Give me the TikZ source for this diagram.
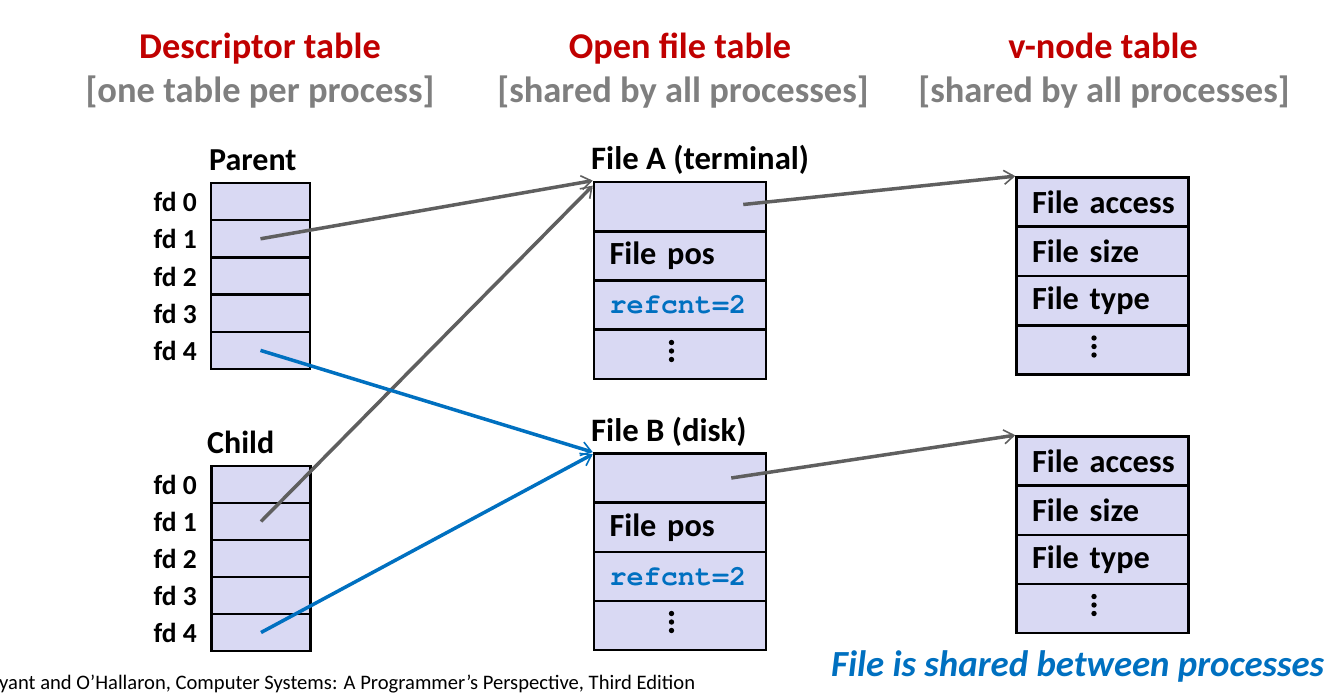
\documentclass[tikz,border=0pt]{standalone}
\usepackage{fontspec}
\setmainfont{Carlito}
\newfontfamily\codefont{texgyrecursor-bold.otf}
\usetikzlibrary{arrows.meta}
\definecolor{cellfill}{RGB}{217,217,243}
\definecolor{titlered}{RGB}{192,0,0}
\definecolor{subgray}{RGB}{127,127,127}
\definecolor{linkblue}{RGB}{0,112,192}
\definecolor{linkgray}{RGB}{95,95,95}
\tikzset{
  title/.style={font=\fontsize{36.3}{40}\selectfont\bfseries, text=titlered, inner sep=0pt, anchor=base},
  subtitle/.style={font=\fontsize{36.5}{40}\selectfont\bfseries, text=subgray, inner sep=0pt, anchor=base},
  hdr/.style={font=\fontsize{32}{36}\selectfont\bfseries, inner sep=0pt, anchor=base west},
  fdlab/.style={font=\fontsize{27.5}{30}\selectfont\bfseries, inner sep=0pt, anchor=base east},
  fdcell/.style={draw=black, line width=2.5pt, fill=cellfill, minimum width=99pt, minimum height=37.2pt, inner sep=0pt},
  filecell/.style={draw=black, line width=2.5pt, fill=cellfill, minimum width=172pt, minimum height=49.2pt, inner sep=0pt},
  textcell/.style={filecell, text width=141pt, inner xsep=15.5pt, align=left, font=\fontsize{32.3}{36}\selectfont\bfseries},
  refcell/.style={textcell, font=\fontsize{28.5}{32}\selectfont\codefont, text=linkblue},
  graylink/.style={draw=linkgray, line width=3.5pt, -{Straight Barb[length=10pt,width=14pt,line width=1.6pt]}},
  bluelink/.style={draw=linkblue, line width=3.5pt, -{Straight Barb[length=10pt,width=14pt,line width=1.6pt]}},
}
\newcommand{\celldots}[1]{\foreach \dy in {12,3.5,-5}{\fill ([xshift=-8.5pt,yshift=\dy pt]#1.center) circle (2.7pt);}}
\begin{document}
\begin{tikzpicture}[x=1pt,y=-1pt]
\useasboundingbox (0,0) rectangle (1341,695);

% titles
\node[title] (t1) at (260,59) {Descriptor table};
\node[subtitle] (s1) at (260,103) {[one table per process]};
\node[title] (t2) at (680,59) {Open file table};
\node[subtitle] (s2) at (683,103) {[shared by all processes]};
\node[title] (t3) at (1103,59) {v-node table};
\node[subtitle] (s3) at (1104,103) {[shared by all processes]};

% parent descriptor table
\node[hdr] (parent) at (209,171) {Parent};
\foreach \i/\y in {0/201.6,1/238.8,2/276.0,3/313.2,4/350.4}{
  \node[fdcell] (p\i) at (260.5,\y) {};
  \node[fdlab] (pl\i) at (197,\y+10) {fd \i};
}
% child descriptor table
\node[hdr] (child) at (207,453) {Child};
\foreach \i/\y in {0/484.5,1/521.5,2/558.5,3/595.5,4/632.5}{
  \node[fdcell] (c\i) at (261,\y) {};
  \node[fdlab] (cl\i) at (197,\y+10) {fd \i};
}

% open file table: File A
\node[hdr, font=\fontsize{32.7}{36}\selectfont\bfseries] (fal) at (591,170) {File A (terminal)};
\node[filecell] (fa0) at (680,206.5) {};
\node[textcell] (fa1) at (680,256) {\mbox{File pos}};
\node[refcell] (fa2) at (680,305) {\mbox{refcnt=2}};
\node[filecell] (fa3) at (680,354.5) {};
\celldots{fa3}

% open file table: File B
\node[hdr, font=\fontsize{32.7}{36}\selectfont\bfseries] (fbl) at (591,441) {File B (disk)};
\node[filecell] (fb0) at (680,478) {};
\node[textcell] (fb1) at (680,527.5) {\mbox{File pos}};
\node[refcell] (fb2) at (680,576.5) {\mbox{refcnt=2}};
\node[filecell] (fb3) at (680,625.5) {};
\celldots{fb3}

% v-node tables
\node[textcell] (va0) at (1102.5,202) {\mbox{File access}};
\node[textcell] (va1) at (1102.5,251.5) {\mbox{File size}};
\node[textcell] (va2) at (1102.5,300.5) {\mbox{File type}};
\node[filecell] (va3) at (1102.5,350) {};
\celldots{va3}

\node[textcell] (vb0) at (1102.5,461) {\mbox{File access}};
\node[textcell] (vb1) at (1102.5,510.5) {\mbox{File size}};
\node[textcell] (vb2) at (1102.5,559.5) {\mbox{File type}};
\node[filecell] (vb3) at (1102.5,608.5) {};
\celldots{vb3}

% connectors
\draw[graylink] (p1.center) -- (fa0.north west);
\draw[graylink] (c1.center) -- ([yshift=-5pt]fa0.north west);
\draw[bluelink] (p4.center) -- (fb0.north west);
\draw[bluelink] (c4.center) -- ([yshift=-2pt]fb0.north west);
\draw[graylink] ([xshift=-24pt,yshift=2pt]fa0.east) -- (va0.north west);
\draw[graylink] ([xshift=-36pt]fb0.east) -- (vb0.north west);

% notes
\node[font=\fontsize{36.8}{40}\selectfont\bfseries\itshape, text=linkblue, inner sep=0pt, anchor=base west] (note) at (831,676) {File is shared between processes};
\node[font=\fontsize{20.6}{24}\selectfont, inner sep=0pt, anchor=base west] (cite) at (-1,689) {yant and O’Hallaron, Computer Systems: A Programmer’s Perspective, Third Edition};
\end{tikzpicture}
\end{document}
